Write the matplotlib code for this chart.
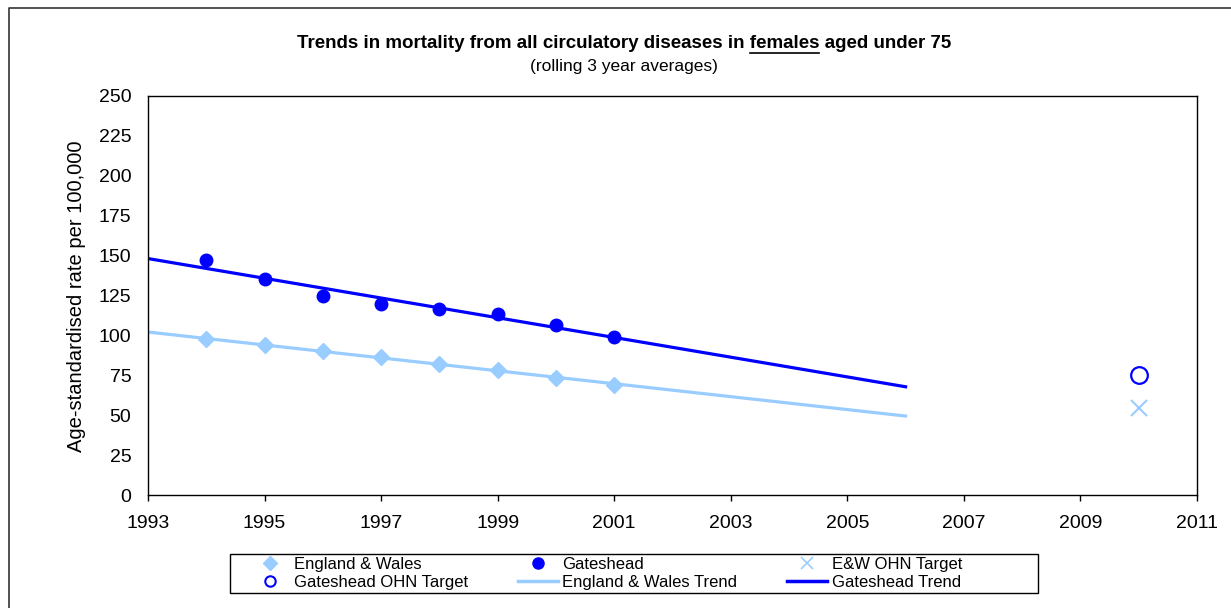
import matplotlib
matplotlib.use("Agg")
import matplotlib.pyplot as plt
import numpy as np
from matplotlib.lines import Line2D
from matplotlib.patches import Rectangle

plt.rcParams["font.family"] = ["Liberation Sans", "DejaVu Sans"]

# rolling 3 year averages, age-standardised rate per 100,000
YEARS = [1994, 1995, 1996, 1997, 1998, 1999, 2000, 2001]
EW_RATE = [97.5, 93.8, 90.2, 86.5, 82.3, 78.1, 73.5, 69.2]
GH_RATE = [147.3, 135.4, 124.8, 119.6, 116.7, 113.3, 106.4, 99.2]

TREND_YEARS = [1993, 2006]
TARGET_YEAR = [2010]
EW_TARGET = [54.5]
GH_TARGET = [75]

X_TICKS = list(range(1993, 2012, 2))
Y_TICKS = list(range(0, 251, 25))

EW_COL = "#99ccff"
GH_COL = "#0000ff"

W, H = 1231, 608
fig = plt.figure(figsize=(W / 100, H / 100), dpi=100)
ax = fig.add_axes([148 / W, 1 - 495 / H, (1197 - 148) / W, (495 - 96) / H])

# linear trend lines fitted to each series
tx = np.array(TREND_YEARS, dtype=float)
ew_fit = np.polyfit(YEARS, EW_RATE, 1)
gh_fit = np.polyfit(YEARS, GH_RATE, 1)
ax.plot(tx, np.polyval(ew_fit, tx), color=EW_COL, lw=2.3, zorder=2)
ax.plot(tx, np.polyval(gh_fit, tx), color=GH_COL, lw=2.3, zorder=2)

ax.plot(YEARS, EW_RATE, ls="none", marker="D", ms=8, color=EW_COL, zorder=3)
ax.plot(YEARS, GH_RATE, ls="none", marker="o", ms=9, color=GH_COL, zorder=3)
ax.plot(TARGET_YEAR, GH_TARGET, ls="none", marker="o", ms=12, mfc="none",
        mec=GH_COL, mew=1.6, zorder=3)
ax.plot(TARGET_YEAR, EW_TARGET, ls="none", marker="x", ms=12, color=EW_COL,
        mew=1.5, zorder=3)

ax.set_xlim(1993, 2011)
ax.set_ylim(0, 250)
ax.set_xticks(X_TICKS)
ax.set_yticks(Y_TICKS)
ax.tick_params(axis="x", direction="out", length=4.5, width=1, pad=10, labelsize=14)
ax.tick_params(axis="y", length=0, pad=12, labelsize=14)
for s in ax.spines.values():
    s.set_linewidth(1)
    s.set_color("black")

fig.text(77 / W, 1 - 296 / H, "Age-standardised rate per 100,000", rotation=90,
         ha="center", va="center", fontsize=14.5)

# title with underlined word
TFS = 13.5
title = "Trends in mortality from all circulatory diseases in females aged under 75"
tx_c = 624 / W
t = fig.text(tx_c, 1 - 43 / H, title, ha="center", va="center", fontsize=TFS,
             fontweight="bold")
fig.text(tx_c, 1 - 66 / H, "(rolling 3 year averages)", ha="center", va="center",
         fontsize=12.5)

r = fig.canvas.get_renderer()
bb = t.get_window_extent(r)


def text_w(s):
    tt = fig.text(0, 0, s, fontsize=TFS, fontweight="bold")
    w = tt.get_window_extent(r).width
    tt.remove()
    return w


w_upto = text_w("Trends in mortality from all circulatory diseases in females")
w_fem = text_w("females")
ux1 = bb.x0 + w_upto
ux0 = ux1 - w_fem
uy = bb.y0 - 1
fig.add_artist(Line2D([ux0 / W, ux1 / W], [uy / H, uy / H], color="black", lw=1.2,
                      transform=fig.transFigure))

# outer frame (left + top edges visible)
fig.add_artist(Line2D([8.5 / W, 8.5 / W, 1.0], [0, 1 - 7.5 / H, 1 - 7.5 / H],
                      color="#333333", lw=1.2, transform=fig.transFigure))

# legend, row-major order reproduced via column-major fill
h_ew = Line2D([], [], ls="none", marker="D", ms=7, color=EW_COL)
h_gh = Line2D([], [], ls="none", marker="o", ms=8, color=GH_COL)
h_ewt = Line2D([], [], ls="none", marker="x", ms=9, color=EW_COL, mew=1.2)
h_ght = Line2D([], [], ls="none", marker="o", ms=7.5, mfc="none", mec=GH_COL, mew=1.5)
h_ewl = Line2D([], [], color=EW_COL, lw=2.5)
h_ghl = Line2D([], [], color=GH_COL, lw=2.5)
handles = [h_ew, h_ght, h_gh, h_ewl, h_ewt, h_ghl]
labels = ["England & Wales", "Gateshead OHN Target", "Gateshead",
          "England & Wales Trend", "E&W OHN Target", "Gateshead Trend"]
fig.legend(handles, labels, ncol=3, loc="center left",
           bbox_to_anchor=(250 / W, 1 - 573.5 / H), fontsize=12,
           frameon=False, borderpad=0, labelspacing=0.15,
           handlelength=2.4, handletextpad=0.25, columnspacing=3.0,
           borderaxespad=0)
fig.add_artist(Rectangle((230 / W, 1 - 593 / H), (1038 - 230) / W, 39 / H,
                         fill=False, edgecolor="black", lw=1,
                         transform=fig.transFigure))

fig.savefig("out.png", dpi=100)
